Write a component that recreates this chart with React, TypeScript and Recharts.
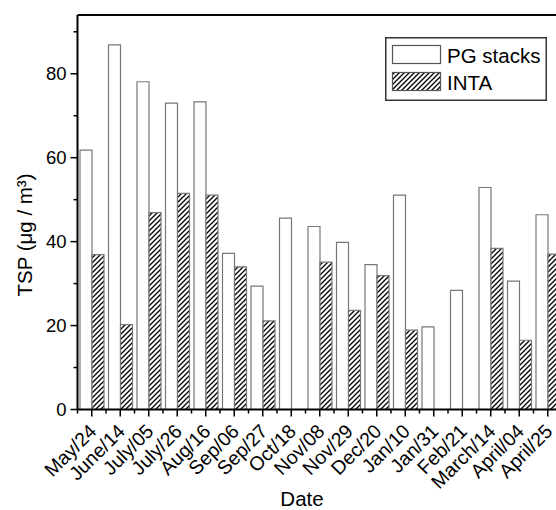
import { Bar, BarChart, Label, Legend, ReferenceLine, XAxis, YAxis } from "recharts";

const categories = [
  "May/24", "June/14", "July/05", "July/26", "Aug/16", "Sep/06", "Sep/27", "Oct/18", "Nov/08",
  "Nov/29", "Dec/20", "Jan/10", "Jan/31", "Feb/21", "March/14", "April/04", "April/25",
];
const pgStacks = [61.8, 86.9, 78.1, 73.0, 73.3, 37.2, 29.4, 45.6, 43.6, 39.8, 34.5, 51.1, 19.7, 28.4, 52.9, 30.6, 46.4];
const inta = [36.9, 20.2, 46.9, 51.5, 51.1, 34.0, 21.1, null, 35.1, 23.6, 31.9, 18.9, null, null, 38.4, 16.5, 37.0];
const yTicks = [0, 10, 20, 30, 40, 50, 60, 70, 80, 90];

const data = categories.map((date, i) => ({ date, pg: pgStacks[i], inta: inta[i] }));

const FONT = "'Liberation Sans', Arial, sans-serif";
const BAND = 28.5;

function XTick(props: any) {
  const { x, y, payload, index } = props;
  return (
    <g>
      <line x1={x} y1={y} x2={x} y2={y + 7} stroke="#000" strokeWidth={1.5} />
      <line x1={x - BAND / 2} y1={y} x2={x - BAND / 2} y2={y + 4} stroke="#000" strokeWidth={1.5} />
      {index === categories.length - 1 && (
        <line x1={x + BAND / 2} y1={y} x2={x + BAND / 2} y2={y + 4} stroke="#000" strokeWidth={1.5} />
      )}
      <text
        transform={`translate(${x + 6},${y + 23}) rotate(-45)`}
        textAnchor="end"
        fontSize={19.5}
        fontFamily={FONT}
        fill="#000"
      >
        {payload.value}
      </text>
    </g>
  );
}

function YTick(props: any) {
  const { x, y, payload } = props;
  const major = payload.value % 20 === 0;
  return (
    <g>
      <line x1={x} y1={y} x2={x - (major ? 7 : 4)} y2={y} stroke="#000" strokeWidth={1.5} />
      {major && (
        <text x={x - 11} y={y + 6.5} textAnchor="end" fontSize={18.5} fontFamily={FONT} fill="#000">
          {payload.value}
        </text>
      )}
    </g>
  );
}

function LegendBox() {
  return (
    <svg width={162} height={64} style={{ display: "block" }}>
      <rect x={0.75} y={0.75} width={160.5} height={62.5} fill="#fff" stroke="#333" strokeWidth={1.5} />
      <rect x={7.5} y={8.5} width={48} height={18} fill="#fff" stroke="#555" strokeWidth={1.2} />
      <text x={62} y={25.5} fontSize={20.5} fontFamily={FONT} fill="#000">PG stacks</text>
      <rect x={7.5} y={35.5} width={48} height={18} fill="url(#hatch)" stroke="#555" strokeWidth={1.2} />
      <text x={62} y={53} fontSize={20.5} fontFamily={FONT} fill="#000">INTA</text>
    </svg>
  );
}

export default function App() {
  return (
    <div style={{ position: "absolute", left: 0, top: 0, width: 556, height: 510, overflow: "hidden", background: "#fff" }}>
      <BarChart
        width={600}
        height={510}
        data={data}
        margin={{ top: 15, right: 38, bottom: 0, left: 0 }}
        barCategoryGap={2.5}
        barGap={0}
      >
        <defs>
          <pattern id="hatch" patternUnits="userSpaceOnUse" width={5} height={5}>
            <rect width={5} height={5} fill="#fff" />
            <path d="M0,5 L5,0 M-1,1 L1,-1 M4,6 L6,4" stroke="#000" strokeWidth={1.3} />
          </pattern>
        </defs>
        <XAxis
          dataKey="date"
          height={100.5}
          interval={0}
          tickSize={0}
          tickMargin={0}
          tickLine={false}
          axisLine={{ stroke: "#000", strokeWidth: 2 }}
          tick={<XTick />}
        >
          <Label
            content={() => (
              <text x={302} y={506} textAnchor="middle" fontSize={20.5} fontFamily={FONT} fill="#000">
                Date
              </text>
            )}
          />
        </XAxis>
        <YAxis
          width={77.5}
          domain={[0, 94]}
          ticks={yTicks}
          interval={0}
          tickSize={0}
          tickMargin={0}
          tickLine={false}
          axisLine={{ stroke: "#000", strokeWidth: 2 }}
          tick={<YTick />}
        >
          <Label
            content={() => (
              <text
                transform="translate(32,235) rotate(-90)"
                textAnchor="middle"
                fontSize={20.5}
                fontFamily={FONT}
                fill="#000"
              >
                TSP (μg / m³)
              </text>
            )}
          />
        </YAxis>
        <ReferenceLine y={94} stroke="#000" strokeWidth={2} />
        <Legend
          layout="vertical"
          align="center"
          verticalAlign="middle"
          wrapperStyle={{ position: "absolute", left: 385, top: 37, width: 162, height: 64 }}
          content={<LegendBox />}
        />
        <Bar dataKey="pg" name="PG stacks" fill="#fff" stroke="#777" strokeWidth={1.2} isAnimationActive={false} />
        <Bar dataKey="inta" name="INTA" fill="url(#hatch)" stroke="#777" strokeWidth={1.2} isAnimationActive={false} />
      </BarChart>
    </div>
  );
}
